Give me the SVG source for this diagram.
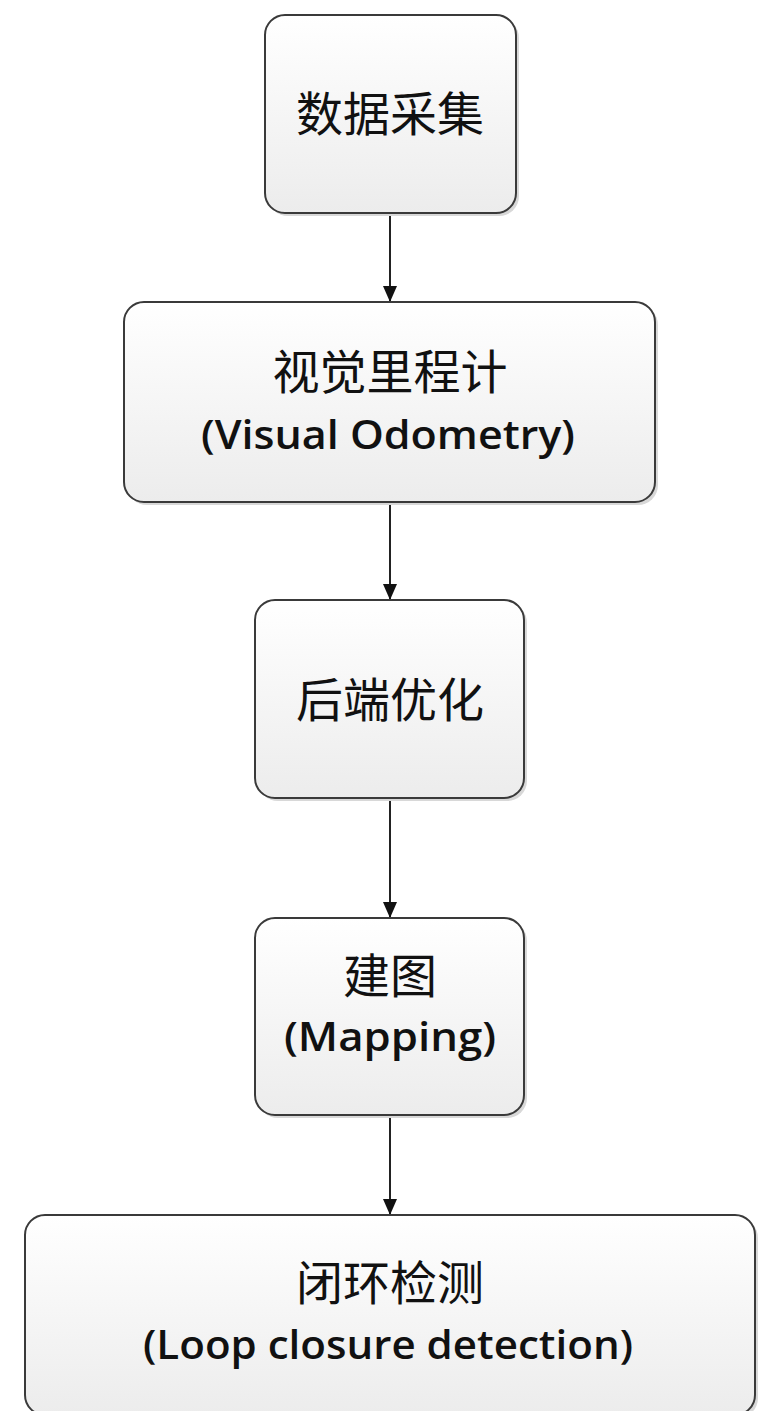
<svg xmlns="http://www.w3.org/2000/svg" width="769" height="1411" viewBox="0 0 769 1411">
<style>
.box{fill:url(#g);stroke:#3a3a3a;stroke-width:2}
.shadow{fill:#d8d8d8}
.cjk{font-family:"Noto Sans CJK SC",sans-serif;font-size:47px;fill:#111;text-anchor:middle}
.en{font-family:"Open Sans","Liberation Sans",sans-serif;font-weight:600;font-size:39px;fill:#111;text-anchor:middle}
.edge{stroke:#222;stroke-width:2;fill:none;marker-end:url(#arr)}
</style>
<defs>
<linearGradient id="g" x1="0" y1="0" x2="0" y2="1">
<stop offset="0" stop-color="#ffffff"/>
<stop offset="1" stop-color="#ececec"/>
</linearGradient>
<marker id="arr" markerWidth="16" markerHeight="14" refX="16" refY="7" orient="auto" markerUnits="userSpaceOnUse" viewBox="0 0 16 14">
<path d="M0,0 L16,7 L0,14 Z" fill="#111"/>
</marker>
</defs>
<rect width="769" height="1411" fill="#ffffff"/>
<g id="connectors">
<line class="edge" x1="390" y1="213" x2="390" y2="302"/>
<line class="edge" x1="390" y1="502" x2="390" y2="600"/>
<line class="edge" x1="390" y1="798" x2="390" y2="918"/>
<line class="edge" x1="390" y1="1115" x2="390" y2="1215"/>
</g>
<g id="n1">
<rect class="shadow" x="268" y="18" width="251" height="198" rx="20"/>
<rect class="box" x="265" y="15" width="251" height="198" rx="20"/>
<text class="cjk" x="390" y="131">数据采集</text>
</g>
<g id="n2">
<rect class="shadow" x="127" y="305" width="531" height="200" rx="20"/>
<rect class="box" x="124" y="302" width="531" height="200" rx="20"/>
<text class="cjk" x="390" y="389">视觉里程计</text>
<text class="en" x="388" y="449" textLength="374" lengthAdjust="spacingAndGlyphs">(Visual Odometry)</text>
</g>
<g id="n3">
<rect class="shadow" x="258" y="603" width="269" height="198" rx="20"/>
<rect class="box" x="255" y="600" width="269" height="198" rx="20"/>
<text class="cjk" x="390" y="717">后端优化</text>
</g>
<g id="n4">
<rect class="shadow" x="258" y="921" width="269" height="197" rx="20"/>
<rect class="box" x="255" y="918" width="269" height="197" rx="20"/>
<text class="cjk" x="390" y="993">建图</text>
<text class="en" x="390" y="1051" textLength="212" lengthAdjust="spacingAndGlyphs">(Mapping)</text>
</g>
<g id="n5">
<rect class="shadow" x="28" y="1218" width="730" height="200" rx="20"/>
<rect class="box" x="25" y="1215" width="730" height="200" rx="20"/>
<text class="cjk" x="390" y="1300">闭环检测</text>
<text class="en" x="388" y="1359" textLength="490" lengthAdjust="spacingAndGlyphs">(Loop closure detection)</text>
</g>
</svg>
